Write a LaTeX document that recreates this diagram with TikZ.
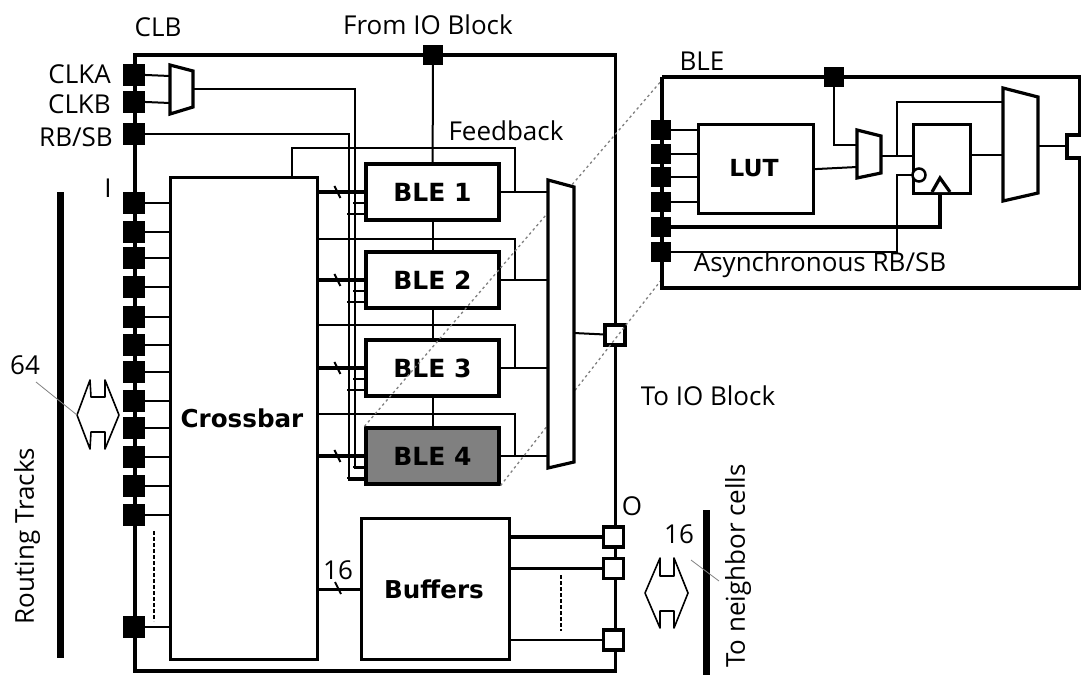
\documentclass[tikz,border=0pt]{standalone}
\usepackage{fontspec}
\setmainfont{Open Sans}
\newfontfamily\boldlabel[BoldFont={DejaVu Sans Bold}]{DejaVu Sans}
\usetikzlibrary{positioning}
\tikzset{
  outline/.style = {line width=3.2pt},
  wire/.style = {line width=2pt},
  bus/.style = {line width=3.2pt},
  thinbox/.style = {draw, line width=3.2pt, fill=white, inner sep=0pt},
  blackpad/.style = {draw=none, fill=black, minimum size=22pt, inner sep=0pt},
  whitepad/.style = {draw, line width=3.2pt, fill=white, minimum size=20pt, inner sep=0pt},
  blebox/.style = {thinbox, minimum width=133pt, minimum height=56pt, font=\boldlabel\fontsize{25}{27}\selectfont\bfseries},
  lbl/.style = {inner sep=0pt, font=\fontsize{26}{28}\selectfont},
  boldlbl/.style = {inner sep=0pt, font=\boldlabel\fontsize{24.6}{26}\selectfont\bfseries},
  mux/.style = {draw, line width=3.2pt, fill=white, line join=miter},
  bar/.style = {line width=7pt},
  leader/.style = {line width=.8pt, gray},
  zoomline/.style = {line width=1.3pt, gray, dash pattern=on 2.5pt off 3pt},
  dots/.style = {line width=1.8pt, dash pattern=on 4pt off 2pt},
  twoway/.style = {draw, line width=1.6pt, fill=white, line join=round}
}
\begin{document}
\begin{tikzpicture}[x=1pt,y=-1pt]
\useasboundingbox (0,0) rectangle (1081,675);
% CLB outline
\draw[outline] (135,55) rectangle (615.5,671);
\node[thinbox, minimum width=147pt, minimum height=482pt, anchor=north west] (xbar) at (169,176) {};
\node[boldlbl] (xbarlbl) at (242,418) {Crossbar};
\node[thinbox, minimum width=148pt, minimum height=141pt, anchor=north west] (buf) at (360,517) {};
\node[boldlbl] (buflbl) at (434,589) {Buffers};
% tracks
\draw[bar] (60,192) -- (60,658);
\draw[bar] (706,510) -- (706,675);
\draw[twoway] (77,415) -- (90,380) -- (91,397) -- (105,397) -- (105,380) -- (119,415) -- (105,449) -- (105,432) -- (91,432) -- (90,449) -- cycle;
\draw[twoway] (645,593) -- (660,558) -- (660,576) -- (674,576) -- (674,558) -- (688,593) -- (674,628) -- (674,611) -- (660,611) -- (660,628) -- cycle;
\draw[leader] (36,382) -- (77,415);
\draw[leader] (691,560) -- (719,581);
% input pads
\foreach \y [count=\i] in {203,232,258,287,317,345,372,401,428,457,486,515,627} {
  \node[blackpad] (in\i) at (134,\y) {};
  \draw[wire] (in\i) -- (in\i -| xbar.west);
}
\node[blackpad] (clka) at (134,74.5) {};
\node[blackpad] (clkb) at (134,101.5) {};
\node[blackpad] (rbsb) at (134,134) {};
\node[blackpad, minimum size=20pt] (top) at (433,55) {};
\draw[dots] (154,531) -- (154,621);
% clock and reset lines
\coordinate (clkout) at (193,89);
\draw[wire] (clka) -- (170,76);
\draw[wire] (clkb) -- (170,103);
\draw[wire] (clkout) -- (355,89) -- (355,468) -- (366,468);
\draw[wire] (rbsb) -- (349,134) -- (349,480) -- (366,480);
\draw[mux] (170,65) -- (193,71) -- (193,107) -- (170,114) -- cycle;
% BLEs
\foreach \y [count=\i] in {192,280,368,456} {
  \node[blebox] (ble\i) at (432.5,\y) {BLE \i};
  \draw[bus] (ble\i.west -| xbar.east) -- (ble\i.west);
  \draw[wire] ([shift={(-30,-6)}]ble\i.west) -- ++(6,12);
  \draw[wire] ([shift={(0,11)}]ble\i.west) -- ++(-11,0);
  \draw[wire] ([shift={(0,22)}]ble\i.west) -- ++(-17,0);
  \draw[wire] (ble\i.east) -- (548,\y);
}
\node[blebox, fill=black!50] (ble4) at (432.5,456) {BLE 4};
\draw[wire] (top) -- (ble1);
\draw[wire] (ble1) -- (ble2);
\draw[wire] (ble2) -- (ble3);
\draw[wire] (ble3) -- (ble4);
% feedback
\draw[wire] (292,176) -- (292,148) -- (515,148) -- (515,192);
\draw[wire] (xbar.east |- 0,239) -- (515,239) -- (515,280);
\draw[wire] (xbar.east |- 0,325) -- (515,325) -- (515,368);
\draw[wire] (xbar.east |- 0,414) -- (515,414) -- (515,456);
% outputs
\node[whitepad] (io) at (615,335) {};
\node[whitepad] (o1) at (613.5,537) {};
\node[whitepad] (o2) at (613.5,568.5) {};
\node[whitepad] (o3) at (613.5,640) {};
\draw[wire] (574,333) -- (io);
\draw[bus] (o1 -| buf.east) -- (o1);
\draw[bus] (o2 -| buf.east) -- (o2);
\draw[wire] (o3 -| buf.east) -- (o3);
\draw[dots] (561,575) -- (561,631);
\draw[bus] (buf.west -| xbar.east) -- (buf.west);
\draw[wire] (335,582) -- (341,594);
% zoom lines
\draw[zoomline] (ble4.north west) -- (662,80);
\draw[zoomline] (ble4.south east) -- (662,279);
\draw[mux] (548,180) -- (574,187) -- (574,462) -- (548,468) -- cycle;
% BLE detail
\draw[outline] (662,77) -- (1081,77);
\draw[outline] (662,77) -- (662,288) -- (1081,288);
\draw[outline] (1080,77) -- (1080,288);
\node[thinbox, minimum width=115pt, minimum height=89pt, anchor=north west] (lut) at (697,123) {};
\node[lbl, font=\boldlabel\fontsize{23.5}{26}\selectfont\bfseries] (lutlbl) at (754,168) {LUT};
\node[thinbox, minimum width=57pt, minimum height=69pt, anchor=north west] (ff) at (912,123) {};
\node[blackpad, minimum size=20pt] (blepad0) at (834,77) {};
\foreach \y [count=\i] in {130,154,177,202,227,252} {
  \node[blackpad, minimum size=20pt] (blepad\i) at (661,\y) {};
}
\draw[wire] (blepad1) -- (blepad1 -| lut.west);
\draw[wire] (blepad2) -- (blepad2 -| lut.west);
\draw[wire] (blepad3) -- (blepad3 -| lut.west);
\draw[wire] (blepad4) -- (blepad4 -| lut.west);
\draw[wire] (blepad0) -- (834,145) -- (857,145);
\draw[wire] (lut.east) -- (857,167);
\draw[wire] (881,156) -- (912,156);
\draw[wire] (897,156) -- (897,102) -- (1003,102);
\draw[wire] (969,155) -- (1003,155);
\draw[wire] (1038,146) -- (1067,146);
\draw[bus] (blepad5) -- (940,227) -- (940,192);
\draw[wire] (blepad6) -- (897,252) -- (897,175) -- (912,175);
\draw[mux] (857,130) -- (881,136) -- (881,173) -- (857,178) -- cycle;
\draw[mux] (1003,88) -- (1038,97) -- (1038,193) -- (1003,201) -- cycle;
\draw[mux] (932,192) -- (940,178) -- (950,192);
\draw[line width=2.5pt, fill=white] (919,175) circle (6.5);
\draw[outline, fill=white] (1081,135) -- (1067,135) -- (1067,158) -- (1081,158);
% labels
\node[lbl] (clblbl) at (158,27) {CLB};
\node[lbl] (fromio) at (428,25) {From IO Block};
\node[lbl, anchor=east] (clkalbl) at (111,74) {CLKA};
\node[lbl, anchor=east] (clkblbl) at (111,104) {CLKB};
\node[lbl, anchor=east] (rblbl) at (113,137) {RB/SB};
\node[lbl] (ilbl) at (108,188) {I};
\node[lbl] (fblbl) at (506,131) {Feedback};
\node[lbl] (bleword) at (702,61) {BLE};
\node[lbl] (asynclbl) at (820,265) {Asynchronous RB/SB};
\node[lbl] (toio) at (708,396) {To IO Block};
\node[lbl] (olbl) at (632,506) {O};
\node[lbl] (n64) at (25,365) {64};
\node[lbl] (n16a) at (679,534) {16};
\node[lbl] (n16b) at (338,570) {16};
\node[lbl, rotate=90] (rtlbl) at (27,536) {Routing Tracks};
\node[lbl, rotate=90] (nblbl) at (738,566) {To neighbor cells};
\end{tikzpicture}
\end{document}
